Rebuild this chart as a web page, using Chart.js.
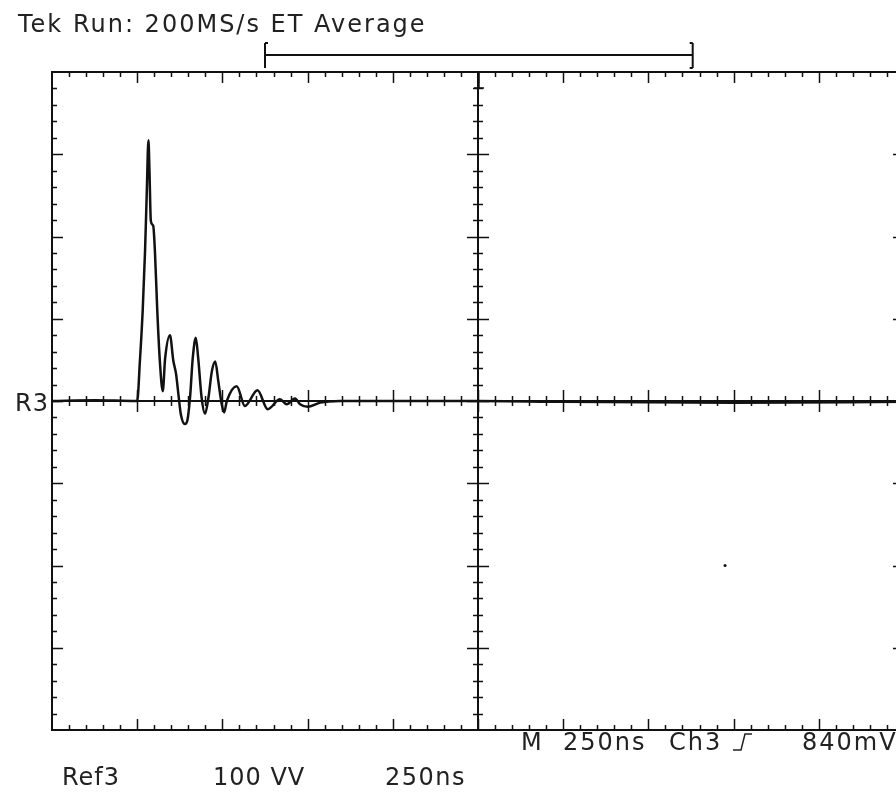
<!DOCTYPE html>
<html>
<head>
<meta charset="utf-8">
<title>Tek Run: 200MS/s ET Average</title>
<script src="https://cdn.jsdelivr.net/npm/chart.js@4.4.0/dist/chart.umd.min.js"></script>
<style>
    html, body { margin: 0; padding: 0; background: #fff; overflow: hidden; }
    #scope { display: block; }
</style>
</head>
<body>
<canvas id="scope" width="910" height="803"></canvas>
<script>
// tiempo en ns (250 ns/div, 10 div)
var tiempoNs = [0, 125, 245, 250, 258, 266, 273, 278, 283, 286, 290, 297, 302, 309, 317, 325,
    332, 346, 356, 364, 372, 378, 390, 397, 405, 413, 422, 429, 439, 449, 459, 469, 479, 488,
    498, 505, 513, 542, 566, 603, 633, 669, 689, 713, 728, 750, 787, 845, 1250, 1500, 2000, 2500];
// amplitud en divisiones verticales (8 div)
var senalDiv = [0, 0.01, 0, 0, 0.49, 1.09, 1.82, 2.52, 3.17, 2.80, 2.19, 2.13, 1.82, 1.09, 0.45, 0.12,
    0.52, 0.80, 0.49, 0.33, 0.04, -0.16, -0.28, -0.24, 0.04, 0.52, 0.77, 0.52, 0.04, -0.155, 0.04, 0.36, 0.48, 0.24,
    -0.04, -0.14, 0, 0.18, -0.06, 0.13, -0.10, 0.02, -0.04, 0.03, -0.04, -0.07, -0.02, 0, 0, -0.01, -0.02, -0.01];
// punto suelto en la pantalla
var motaNs = [1975];
var motaDiv = [-2.0];

var ejeX = { min: 0, max: 2500, mayor: 250, menor: 50 };
var ejeY = { min: -4, max: 4, mayor: 1, menor: 0.2 };
var ventana = [625, 1880];   // corchete de registro arriba
var disparoNs = 1250;

var textos = {
    titulo: 'Tek Run: 200MS/s ET Average',
    ref: 'R3',
    pie: ['Ref3', '100 VV', '250ns'],
    estado: ['M', '250ns', 'Ch3', '840mV']
};

function puntos(xs, ys) {
    var out = [];
    for (var i = 0; i < xs.length; i++) out.push({ x: xs[i], y: ys[i] });
    return out;
}

var FUENTE = '24px "DejaVu Sans"';
var TINTA = '#111';

// reticula del osciloscopio
var reticula = {
    id: 'reticula',
    beforeDatasetsDraw: function (chart) {
        var c = chart.ctx, a = chart.chartArea;
        var sx = chart.scales.x, sy = chart.scales.y;
        var cx = sx.getPixelForValue((ejeX.min + ejeX.max) / 2);
        var cy = sy.getPixelForValue(0);
        c.save();
        c.strokeStyle = TINTA;
        c.lineWidth = 2;
        c.strokeRect(a.left, a.top, a.right - a.left, a.bottom - a.top);
        c.beginPath();
        c.moveTo(a.left, cy); c.lineTo(a.right, cy);
        c.moveTo(cx, a.top); c.lineTo(cx, a.bottom);
        c.stroke();

        c.lineWidth = 1.5;
        c.beginPath();
        var n = Math.round((ejeX.max - ejeX.min) / ejeX.menor);
        for (var i = 1; i < n; i++) {
            var v = ejeX.min + i * ejeX.menor;
            var px = Math.round(sx.getPixelForValue(v)) + 0.5;
            var mayor = (i * ejeX.menor) % ejeX.mayor === 0;
            var L = mayor ? 11 : 5;
            c.moveTo(px, a.top); c.lineTo(px, a.top + L);
            c.moveTo(px, a.bottom); c.lineTo(px, a.bottom - L);
            c.moveTo(px, cy - L); c.lineTo(px, cy + L);
        }
        var m = Math.round((ejeY.max - ejeY.min) / ejeY.menor);
        for (var j = 1; j < m; j++) {
            var w = ejeY.min + j * ejeY.menor;
            var py = Math.round(sy.getPixelForValue(w)) + 0.5;
            var may = Math.abs(w - Math.round(w)) < 1e-6;
            var L2 = may ? 11 : 5;
            c.moveTo(a.left, py); c.lineTo(a.left + L2, py);
            c.moveTo(a.right, py); c.lineTo(a.right - L2, py);
            c.moveTo(cx - L2, py); c.lineTo(cx + L2, py);
        }
        c.stroke();

        // marca de disparo
        var tx = sx.getPixelForValue(disparoNs);
        c.lineWidth = 1.5;
        c.beginPath();
        c.moveTo(tx + 1, a.top); c.lineTo(tx + 1, a.top + 16);
        c.moveTo(tx - 4, a.top + 16); c.lineTo(tx + 6, a.top + 16);
        c.stroke();

        // corchete de la ventana de registro
        var x1 = sx.getPixelForValue(ventana[0]), x2 = sx.getPixelForValue(ventana[1]);
        var yb = a.top - 17;
        c.lineWidth = 2;
        c.beginPath();
        c.moveTo(x1, yb - 12); c.lineTo(x1, yb + 13);
        c.moveTo(x1, yb - 12); c.lineTo(x1 + 3, yb - 12);
        c.moveTo(x1, yb); c.lineTo(x2, yb);
        c.moveTo(x2, yb - 12); c.lineTo(x2, yb + 13);
        c.moveTo(x2, yb - 12); c.lineTo(x2 - 3, yb - 12);
        c.moveTo(x2, yb + 13); c.lineTo(x2 - 3, yb + 13);
        c.stroke();
        c.restore();
    },
    afterDraw: function (chart) {
        var c = chart.ctx, a = chart.chartArea;
        var cy = chart.scales.y.getPixelForValue(0);
        c.save();
        c.fillStyle = '#222';
        c.font = FUENTE;
        c.letterSpacing = '2px';
        c.textBaseline = 'alphabetic';
        c.textAlign = 'left';
        c.fillText(textos.titulo, 18, 32);
        c.letterSpacing = '1px';
        c.fillText(textos.ref, 15, cy + 10);
        c.fillText(textos.pie[0], 62, 785);
        c.fillText(textos.pie[1], 213, 785);
        c.letterSpacing = '1.5px';
        c.fillText(textos.pie[2], 385, 785);
        c.letterSpacing = '2px';
        var yb = a.bottom + 20;
        c.fillText(textos.estado[0], 521, yb);
        c.fillText(textos.estado[1], 563, yb);
        c.fillText(textos.estado[2], 669, yb);
        c.fillText(textos.estado[3], 802, yb);
        // simbolo de flanco de subida
        c.strokeStyle = '#222';
        c.lineWidth = 1.5;
        c.beginPath();
        c.moveTo(733, yb); c.lineTo(741, yb);
        c.lineTo(745, yb - 16); c.lineTo(752, yb - 16);
        c.stroke();
        c.restore();
    }
};

var miCanvas = document.getElementById('scope').getContext('2d');
var miGrafico = new Chart(miCanvas, {
    type: 'line',
    data: {
        datasets: [
            {
                label: 'Ref3',
                data: puntos(tiempoNs, senalDiv),
                borderColor: TINTA,
                borderWidth: 2.5,
                pointRadius: 0,
                fill: false,
                cubicInterpolationMode: 'monotone'
            },
            {
                label: 'mota',
                data: puntos(motaNs, motaDiv),
                showLine: false,
                pointRadius: 1.5,
                pointBackgroundColor: TINTA,
                pointBorderWidth: 0
            }
        ]
    },
    options: {
        responsive: false,
        animation: false,
        events: [],
        layout: { padding: { left: 52, top: 72, right: 6, bottom: 73 } },
        plugins: {
            legend: { display: false },
            tooltip: { enabled: false },
            title: { display: false }
        },
        scales: {
            x: { type: 'linear', min: ejeX.min, max: ejeX.max, display: false },
            y: { type: 'linear', min: ejeY.min, max: ejeY.max, display: false }
        }
    },
    plugins: [reticula]
});
</script>
</body>
</html>
